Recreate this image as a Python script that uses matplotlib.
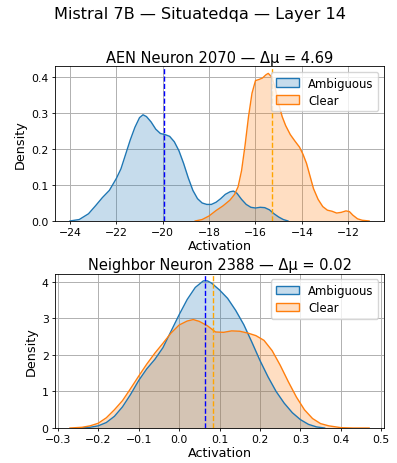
import matplotlib
matplotlib.use('Agg')
import matplotlib.pyplot as plt
import matplotlib.patches as mpatches

# ---- data (KDE curves) ----
amb_top_x = [-24.0, -23.6, -23.2, -22.9, -22.6, -22.3, -22.0, -21.8, -21.6, -21.4, -21.2,
             -21.0, -20.85, -20.7, -20.5, -20.3, -20.1, -19.9, -19.7, -19.5, -19.3, -19.1,
             -18.9, -18.7, -18.5, -18.3, -18.1, -17.9, -17.7, -17.5, -17.3, -17.1, -16.95,
             -16.8, -16.6, -16.4, -16.2, -16.0, -15.8, -15.6, -15.4, -15.2, -15.0, -14.8, -14.6]
amb_top_y = [0.0, 0.004, 0.02, 0.042, 0.065, 0.085, 0.118, 0.145, 0.185, 0.225, 0.26,
             0.287, 0.295, 0.29, 0.275, 0.255, 0.243, 0.24, 0.235, 0.22, 0.195, 0.16,
             0.12, 0.085, 0.062, 0.05, 0.046, 0.046, 0.052, 0.062, 0.074, 0.081, 0.083,
             0.077, 0.06, 0.046, 0.038, 0.036, 0.038, 0.037, 0.031, 0.02, 0.011, 0.004, 0.0]

clr_top_x = [-18.6, -18.3, -18.0, -17.7, -17.4, -17.1, -16.9, -16.75, -16.6, -16.45, -16.3,
             -16.15, -16.0, -15.85, -15.7, -15.55, -15.45, -15.3, -15.15, -15.0, -14.85,
             -14.7, -14.5, -14.3, -14.1, -13.95, -13.8, -13.65, -13.5, -13.3, -13.1, -12.9,
             -12.7, -12.5, -12.3, -12.1, -11.95, -11.8, -11.6, -11.4, -11.1]
clr_top_y = [0.0, 0.004, 0.014, 0.029, 0.042, 0.058, 0.074, 0.095, 0.14, 0.21, 0.29,
             0.355, 0.39, 0.393, 0.397, 0.406, 0.41, 0.4, 0.37, 0.325, 0.29,
             0.265, 0.24, 0.222, 0.205, 0.185, 0.16, 0.125, 0.09, 0.06, 0.04, 0.03,
             0.027, 0.022, 0.024, 0.028, 0.026, 0.016, 0.006, 0.002, 0.0]

amb_bot_x = [-0.25, -0.22, -0.20, -0.18, -0.16, -0.14, -0.12, -0.10, -0.08, -0.06, -0.04,
             -0.02, 0.0, 0.02, 0.04, 0.06, 0.07, 0.08, 0.10, 0.12, 0.14, 0.16, 0.18, 0.20,
             0.22, 0.24, 0.26, 0.28, 0.30, 0.32, 0.34, 0.36]
amb_bot_y = [0.0, 0.02, 0.06, 0.15, 0.32, 0.58, 0.92, 1.3, 1.62, 1.88, 2.2,
             2.65, 3.1, 3.52, 3.85, 4.03, 4.03, 3.97, 3.78, 3.55, 3.22, 2.83, 2.35, 1.85,
             1.4, 1.0, 0.68, 0.42, 0.23, 0.1, 0.03, 0.0]

clr_bot_x = [-0.27, -0.24, -0.22, -0.20, -0.18, -0.16, -0.14, -0.12, -0.10, -0.08, -0.06,
             -0.04, -0.02, 0.0, 0.02, 0.035, 0.05, 0.07, 0.09, 0.11, 0.13, 0.15, 0.17,
             0.19, 0.21, 0.23, 0.25, 0.27, 0.29, 0.31, 0.33, 0.35, 0.37, 0.40, 0.43, 0.47]
clr_bot_y = [0.0, 0.02, 0.06, 0.13, 0.28, 0.5, 0.75, 1.08, 1.42, 1.75, 2.05,
             2.32, 2.6, 2.82, 2.93, 2.97, 2.92, 2.8, 2.63, 2.62, 2.66, 2.65, 2.6,
             2.53, 2.4, 2.12, 1.72, 1.27, 0.85, 0.5, 0.26, 0.12, 0.06, 0.01, 0.0, 0.0]

means_top = [-19.96, -15.27]
means_bot = [0.064, 0.084]
titles = ['AEN Neuron 2070 — Δμ = 4.69', 'Neighbor Neuron 2388 — Δμ = 0.02']
labels = ['Ambiguous', 'Clear']

C_AMB = '#1f77b4'
C_CLR = '#ff7f0e'

fig = plt.figure(figsize=(3.97, 4.64), dpi=100)
fig.suptitle('Mistral 7B — Situatedqa — Layer 14', fontsize=11.6, y=0.985, x=0.505)

ax1 = fig.add_axes([0.1385, 0.5216, 0.829, 0.334])
ax2 = fig.add_axes([0.1385, 0.0754, 0.829, 0.333])

panels = [
    (ax1, amb_top_x, amb_top_y, clr_top_x, clr_top_y, means_top, titles[0]),
    (ax2, amb_bot_x, amb_bot_y, clr_bot_x, clr_bot_y, means_bot, titles[1]),
]

for ax, ax_x, ax_y, cx, cy, means, title in panels:
    ax.fill_between(ax_x, ax_y, color=C_AMB, alpha=0.25, lw=0)
    ax.plot(ax_x, ax_y, color=C_AMB, lw=1.0)
    ax.fill_between(cx, cy, color=C_CLR, alpha=0.25, lw=0)
    ax.plot(cx, cy, color=C_CLR, lw=1.0)
    ax.axvline(means[0], color='blue', ls='--', lw=1.0)
    ax.axvline(means[1], color='orange', ls='--', lw=1.0)
    ax.margins(x=0.05, y=0.05)
    ax.set_ylim(bottom=0)
    ax.grid(True, color='#b0b0b0', lw=0.7)
    ax.set_axisbelow(True)
    ax.set_title(title, fontsize=10.5, pad=3)
    ax.set_xlabel('Activation', fontsize=9.2, labelpad=1)
    ax.set_ylabel('Density', fontsize=9.2, labelpad=3)
    ax.tick_params(labelsize=7.8, length=2.5, width=0.6, pad=2)
    for s in ax.spines.values():
        s.set_linewidth(0.6)
    handles = [
        mpatches.Patch(facecolor=C_AMB, edgecolor=C_AMB, alpha=0.25, label=labels[0]),
        mpatches.Patch(facecolor=C_CLR, edgecolor=C_CLR, alpha=0.25, label=labels[1]),
    ]
    leg = ax.legend(handles=handles, loc='upper right', fontsize=8.4, framealpha=0.8,
                    handlelength=2.0, borderpad=0.4, labelspacing=0.35)
    for h, c in zip(leg.legend_handles, [C_AMB, C_CLR]):
        h.set_edgecolor(c)
        h.set_facecolor(matplotlib.colors.to_rgba(c, 0.25))
        h.set_alpha(None)

ax1.set_xticks(range(-24, -11, 2))
ax1.set_yticks([0.0, 0.1, 0.2, 0.3, 0.4])
ax2.set_xticks([-0.3, -0.2, -0.1, 0.0, 0.1, 0.2, 0.3, 0.4, 0.5])
ax2.set_yticks([0, 1, 2, 3, 4])

fig.savefig('out.png', dpi=100, facecolor='white')
plt.close()
